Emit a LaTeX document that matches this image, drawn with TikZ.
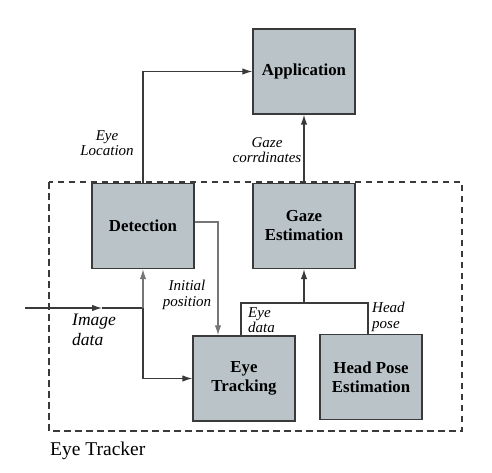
\documentclass[tikz,border=0pt]{standalone}
\usepackage{fontspec}
\setmainfont{Liberation Serif}
\usetikzlibrary{arrows.meta}
\definecolor{boxfill}{HTML}{BAC4C8}
\definecolor{boxline}{HTML}{3A3A3A}
\definecolor{arrgray}{HTML}{767676}
\begin{document}
\begin{tikzpicture}[x=1pt,y=-1pt,
  blk/.style={draw=boxline,line width=1.4pt,fill=boxfill,minimum width=102pt,minimum height=85pt,
    inner sep=0pt,align=center,font=\fontsize{16.8}{19}\selectfont\bfseries},
  conn/.style={draw=boxline,line width=1.2pt},
  arr/.style={conn,-{Latex[length=10pt,width=6.5pt]}},
  garr/.style={draw=arrgray,line width=1.2pt,-{Latex[length=10pt,width=6.5pt]}},
  lbl/.style={font=\fontsize{15}{15.5}\selectfont\itshape,inner sep=0pt,align=center},
  lbll/.style={lbl,align=left}]
\useasboundingbox (0,0) rectangle (492,472);
% dashed frame
\draw[boxline,line width=1.2pt,dash pattern=on 6.5pt off 4.5pt] (49,182) rectangle (462,431);
\node[anchor=base west,inner sep=0pt,font=\fontsize{19.5}{20}\selectfont] (tr) at (50,455) {Eye Tracker};
% blocks
\node[blk] (app) at (304,71.5) {Application};
\node[blk] (det) at (143,226) {Detection};
\node[blk] (gaze) at (304,226) {Gaze\\Estimation};
\node[blk] (et) at (244,378.5) {Eye\\Tracking};
\node[blk] (hp) at (371,377) {Head Pose\\Estimation};
% connectors
\draw[arr] (det.north) |- (app.west);
\draw[arr] (gaze.north) -- (app.south);
\draw[garr] ([yshift=4pt]det.east) -| ([xshift=-26pt]et.north);
\coordinate (in) at (25,308);
\coordinate (mid) at (102,308);
\coordinate (j) at (143,308);
\draw[arr] (in) -- (mid);
\draw[conn] (mid) -- (j);
\draw[garr] (j) -- (det.south);
\draw[arr] (j) |- (et.west);
\coordinate (b) at (304,303);
\coordinate (bl) at (241,303);
\coordinate (br) at (368,303);
\draw[conn] (bl |- et.north) -- (bl) -- (br) -- (br |- hp.north);
\draw[arr] (b) -- (gaze.south);
% labels
\node[lbl] (l1) at (107,143) {Eye\\Location};
\node[lbl] (l2) at (267,150) {Gaze\\corrdinates};
\node[lbl] (l3) at (187,295) {Initial\\position};
\node[lbll,anchor=west,font=\fontsize{17.5}{20}\selectfont\itshape] (l4) at (72,330) {Image\\data};
\node[lbll,anchor=west] (l5) at (248,320) {Eye\\data};
\node[lbll,anchor=west] (l6) at (372,317) {Head\\pose};
\end{tikzpicture}
\end{document}
